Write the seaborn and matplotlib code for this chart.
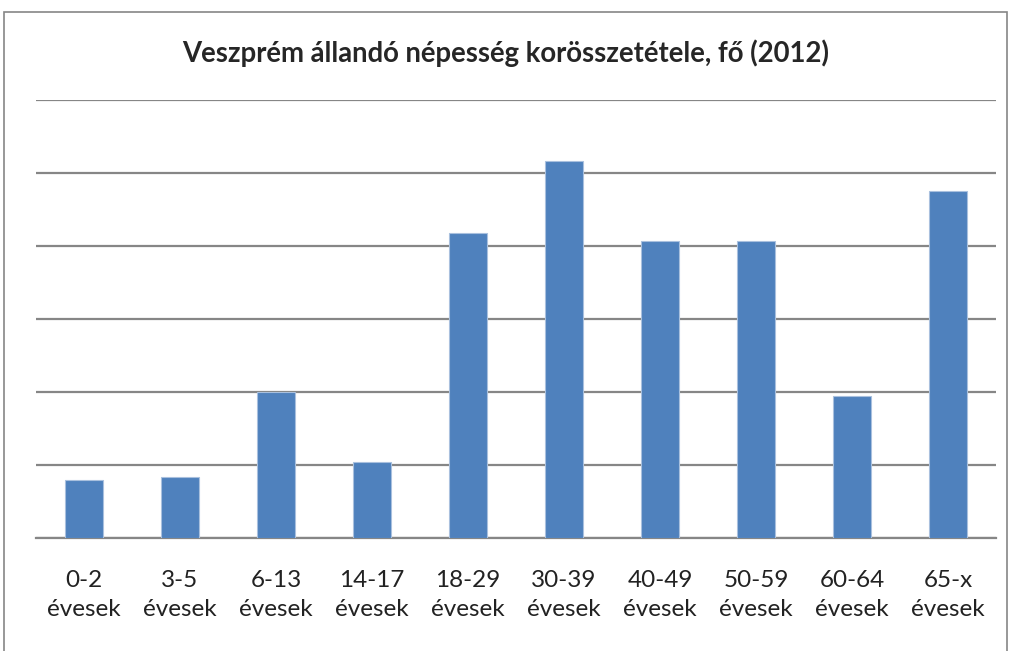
import matplotlib
matplotlib.use("Agg")
import matplotlib.pyplot as plt
import seaborn as sns
import pandas as pd
from matplotlib.patches import Rectangle

korcsoportok = ["0-2\névesek", "3-5\névesek", "6-13\névesek", "14-17\névesek", "18-29\névesek",
                "30-39\névesek", "40-49\névesek", "50-59\névesek", "60-64\névesek", "65-x\névesek"]
nepesseg = [1600, 1680, 4000, 2070, 8360, 10320, 8140, 8150, 3900, 9500]

df = pd.DataFrame({"kor": korcsoportok, "fo": nepesseg})

sns.set_style("white")
plt.rcParams["font.family"] = ["Lato", "DejaVu Sans"]

fig = plt.figure(figsize=(10.11, 6.51), dpi=100)
ax = fig.add_axes([36 / 1011, 1 - 538 / 651, 960 / 1011, 438 / 651])

sns.barplot(data=df, x="kor", y="fo", color="#4F81BD", width=0.4, saturation=1,
            edgecolor="#A9C0DE", linewidth=0.8, ax=ax, zorder=3)

ax.set_ylim(0, 12000)
ax.set_xlim(-0.5, len(korcsoportok) - 0.5)
ax.set_yticks(range(0, 12001, 2000))
ax.yaxis.grid(True, color="#868686", linewidth=1.6, zorder=0)
ax.set_yticklabels([])
ax.tick_params(axis="y", length=0)
ax.tick_params(axis="x", length=0, pad=23, labelsize=17.5, labelcolor="#222222")
ax.set_xlabel("")
ax.set_ylabel("")
for s in ["top", "right", "left"]:
    ax.spines[s].set_visible(False)
ax.spines["bottom"].set_color("#868686")
ax.spines["bottom"].set_linewidth(1.6)
for lbl in ax.get_xticklabels():
    lbl.set_linespacing(1.5)

fig.text(0.5, 1 - 53 / 651, "Veszprém állandó népesség korösszetétele, fő (2012)",
         ha="center", va="center", fontsize=19.8, fontweight="bold")

fig.add_artist(Rectangle((4 / 1011, -0.1), 1003 / 1011, 1.1 - 12 / 651, transform=fig.transFigure,
                         fill=False, edgecolor="#868686", linewidth=1.2))

fig.savefig("out.png", dpi=100)
